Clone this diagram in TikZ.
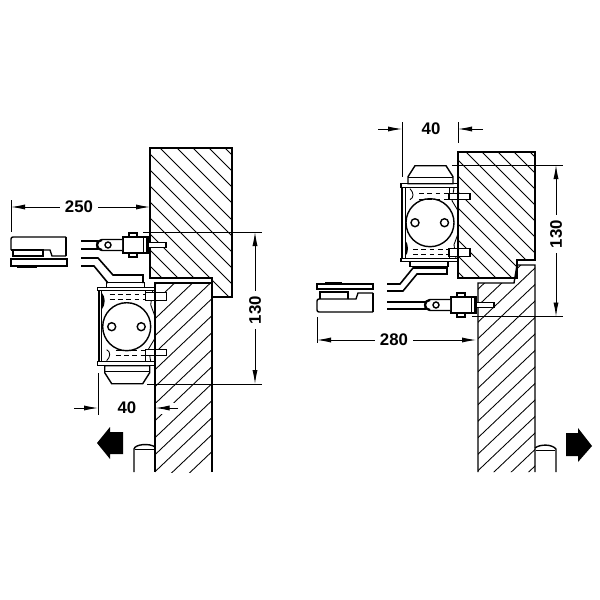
\documentclass[tikz,border=0pt]{standalone}
\usepackage{fontspec}
\setmainfont{Liberation Sans}
\usetikzlibrary{arrows.meta}
\tikzset{
  outl/.style={line width=1.05pt,line join=miter},
  thinl/.style={line width=0.65pt},
  hatchl/.style={line width=0.65pt},
  dim/.style={line width=0.65pt,-{Latex[length=10.5pt,width=3.8pt]}},
  lbl/.style={font=\bfseries\fontsize{12.6pt}{14pt}\selectfont,inner sep=0pt,outer sep=4pt,text=black},
  blockarrow/.style={fill=black,draw=none},
  dashl/.style={line width=0.65pt,dash pattern=on 3.6pt off 2.6pt},
}
\newcommand{\closerbody}{%
  \fill[white] (-28,-36) rectangle (28,35);
  \draw[outl,fill=white] (-20,-44) rectangle (18,-39);
  \draw[outl,fill=white] (-29,-39) rectangle (28,-36);
  \draw[outl,fill=white] (-29,35) rectangle (28,39);
  \draw[line width=1.2pt] (-28,-36) -- (-28,35);
  \draw[thinl] (-25,-36) -- (-25,35);
  \fill (-25,-34) .. controls (-21,-30) and (-21,-22) .. (-25,-17) -- cycle;
  \draw[thinl] (-20,23) .. controls (-16,25) and (-16,30) .. (-20,34);
  \draw[dashl] (-17,-32) -- (19,-32);
  \draw[dashl] (-17,-27) -- (19,-27);
  \draw[dashl] (-11,23.5) -- (19,23.5);
  \draw[dashl] (-11,29) -- (19,29);
  \draw[outl] (0,0) circle (24);
  \draw[outl,fill=white] (-15,0) circle (4);
  \draw[outl,fill=white] (14.5,0) circle (4);
  \draw[thinl] (26,-36) -- (24,-22) -- (28,-11);
  \draw[thinl] (28,12) -- (22,22) -- (24,35);
  \draw[outl,fill=white] (19,-34) rectangle (40,-26);
  \draw[outl,fill=white] (19,23) rectangle (40,29);
  \draw[thinl] (19,-36) -- (19,-26);
  \draw[thinl] (19,23) -- (19,35);
  \draw[outl,fill=white] (-22,39) -- (23,39) -- (23,46) -- (16,57) -- (-15,57) -- (-22,46) -- cycle;
  \draw[line width=1.1pt] (-22,45) -- (23,45);
}
\newcommand{\mountbody}{%
  \draw[outl,fill=white] (6,-12) rectangle (14,-8);
  \draw[outl,fill=white] (6,8) rectangle (14,12);
  \draw[outl,fill=white] (0,-8) rectangle (25,8);
  \draw[thinl] (20,-8) -- (20,8);
  \draw[outl] (24,-8) -- (24,8);
  \draw[outl,fill=white] (25,-2.5) rectangle (43,2.5);
  \draw[outl,fill=white] (-1,-5.5) -- (-21,-5.5) -- (-26,-3) -- (-26,3) -- (-21,5.5) -- (-1,5.5);
  \draw[line width=1.6pt] (-21,-5) arc[start angle=270,end angle=90,radius=5];
  \draw[outl,fill=white] (-15,0) circle (3);
}
\begin{document}
\begin{tikzpicture}[x=0.75pt,y=-0.75pt]
\useasboundingbox (0,0) rectangle (600,600);
\fill[white] (0,0) rectangle (600,600);

% ---------- left frame
\begin{scope}
  \clip (150,148) -- (232,148) -- (232,297) -- (212,297) -- (212,278) -- (150,278) -- cycle;
  \foreach \c in {77,61,45,29,12,-4,-20,-36,-52,-68,-84,-100,-116,-132,-148} {
    \draw[hatchl] (\c+140,140) -- (\c+340,340);
  }
\end{scope}
\draw[outl] (150,148) -- (232,148) -- (232,297) -- (212,297) -- (212,278) -- (150,278) -- cycle;

% ---------- left door
\begin{scope}
  \clip (155,283) rectangle (212,472);
  \foreach \k in {-2,...,14} {
    \draw[hatchl] (145,{471.7-17*\k+9.5}) -- (222,{471.7-17*\k-63.65});
  }
\end{scope}

% ---------- right frame
\begin{scope}
  \clip (458,152) -- (535,152) -- (535,260) -- (517,260) -- (517,278) -- (458,278) -- cycle;
  \foreach \k in {0,...,12} {
    \draw[hatchl] ({378-16*\k+140},140) -- ({378-16*\k+340},340);
  }
\end{scope}
\draw[outl] (458,152) -- (535,152) -- (535,260) -- (517,260) -- (517,278) -- (458,278) -- cycle;

% ---------- right door
\begin{scope}
  \clip (478,283) -- (514,283) -- (517,265) -- (535,265) -- (535,472) -- (478,472) -- cycle;
  \foreach \k in {-3,...,13} {
    \draw[hatchl] (470,{268+16.5*\k+61.75}) -- (545,{268+16.5*\k-9.5});
  }
\end{scope}

% ---------- closers
\begin{scope}[shift={(126.7,326.7)}] \closerbody \end{scope}
\begin{scope}[shift={(430,222.7)},yscale=-1] \closerbody \end{scope}

% ---------- door and frame edges over the closers
\draw[outl] (212,472) -- (212,283) -- (155,283) -- (155,472);
\draw[outl] (478,472) -- (478,283) -- (514,283) -- (517,265) -- (535,265) -- (535,472);
\draw[outl] (458,152) -- (458,278);

% ---------- mounts with link rods
\begin{scope}[shift={(123,245)}] \mountbody \end{scope}
\begin{scope}[shift={(451,305)}] \mountbody \end{scope}
\draw[outl] (81,241) -- (98,241);
\draw[outl] (81,249) -- (98,249);
\draw[outl] (387,302) -- (426,302);
\draw[outl] (387,309) -- (426,309);

% ---------- arms
\draw[line width=1.2pt] (81,258) -- (98,258) -- (113,275) -- (143,275) -- (143,283);
\draw[line width=1.2pt] (81,266) -- (94,266) -- (108,283);
\draw[line width=1.2pt] (387,284) -- (400,284) -- (413,268) -- (447,268) -- (447,274) -- (417,274) -- (403,291) -- (387,291);

% ---------- left glass fitting
\draw[outl,rounded corners=1.5pt] (66,237) -- (11,237) -- (11,250);
\draw[outl] (11,250) -- (43,250) -- (43,256) -- (13,256) -- (13,250);
\draw[outl] (66,256) -- (52,256) -- (50,250) -- (43,250);
\draw[outl] (66,237) -- (66,256);
\draw[outl] (11,259) rectangle (67,266);
\fill (17,265.5) rectangle (37,268);

% ---------- right glass fitting
\draw[outl] (317,284) rectangle (373,289);
\fill (325,281.5) rectangle (342,284);
\draw[outl] (320,299) -- (320,292) -- (348,292) -- (348,299);
\draw[outl,rounded corners=1.5pt] (373,312) -- (317,312) -- (317,299) -- (348,299);
\draw[outl] (373,293) -- (358,293) -- (356,299) -- (348,299);
\draw[outl] (373,293) -- (373,312);

% ---------- door stops (tubes)
\draw[outl] (134,472) -- (134,449) .. controls (135,444) and (150,443) .. (155,447);
\draw[thinl] (135,449) -- (154,449);
\draw[outl] (535,448) .. controls (540,444) and (552,444) .. (556,449) -- (556,472);
\draw[thinl] (536,450) -- (555,450);

% ---------- block arrows
\fill[blockarrow] (97,443) -- (110,427) -- (110,432) -- (123,432) -- (123,454) -- (110,454) -- (110,459) -- cycle;
\fill[blockarrow] (566,433) -- (578,433) -- (578,428) -- (592,446) -- (578,462) -- (578,456) -- (566,456) -- cycle;

% ---------- extension lines
\coordinate (e250a) at (11,200);
\coordinate (e250b) at (11,232);
\draw[thinl] (e250a) -- (e250b);
\draw[thinl] (143,232) -- (262,232);
\draw[thinl] (147,384) -- (262,384);
\draw[thinl] (98,373) -- (98,415);
\draw[thinl] (452,165) -- (563,165);
\draw[thinl] (472,316.5) -- (563,316.5);
\draw[thinl] (402,122) -- (402,177);
\draw[thinl] (458,122) -- (458,143);
\draw[thinl] (317,317) -- (317,343);

% ---------- gap in hatch round the left 40 arrow
\fill[white] (156,403) rectangle (179,414);

% ---------- dimensions
\node[lbl] (t250) at (79,207) {250};
\coordinate (t250l) at (11,207);
\coordinate (t250r) at (150,207);
\draw[dim] (t250.west) -- (t250l);
\draw[dim] (t250.east) -- (t250r);

\node[lbl,rotate=90] (t130l) at (255,310) {130};
\coordinate (a130lt) at (255,232);
\coordinate (a130lb) at (255,384);
\draw[dim] (t130l.east) -- (a130lt);
\draw[dim] (t130l.west) -- (a130lb);

\node[lbl] (t40l) at (127,408) {40};
\coordinate (a40ll0) at (74,408);
\coordinate (a40ll1) at (98,408);
\coordinate (a40lr0) at (178,408);
\coordinate (a40lr1) at (155.5,408);
\draw[dim] (a40ll0) -- (a40ll1);
\draw[dim] (a40lr0) -- (a40lr1);

\node[lbl] (t40r) at (431,129) {40};
\coordinate (a40rl0) at (378,129);
\coordinate (a40rl1) at (402,129);
\coordinate (a40rr0) at (483,129);
\coordinate (a40rr1) at (458,129);
\draw[dim] (a40rl0) -- (a40rl1);
\draw[dim] (a40rr0) -- (a40rr1);

\node[lbl,rotate=90] (t130r) at (556,234) {130};
\coordinate (a130rt) at (556,165);
\coordinate (a130rb) at (556,316.5);
\draw[dim] (t130r.east) -- (a130rt);
\draw[dim] (t130r.west) -- (a130rb);

\node[lbl] (t280) at (394,340) {280};
\coordinate (a280l) at (317,340);
\coordinate (a280r) at (476,340);
\draw[dim] (t280.west) -- (a280l);
\draw[dim] (t280.east) -- (a280r);
\end{tikzpicture}
\end{document}
